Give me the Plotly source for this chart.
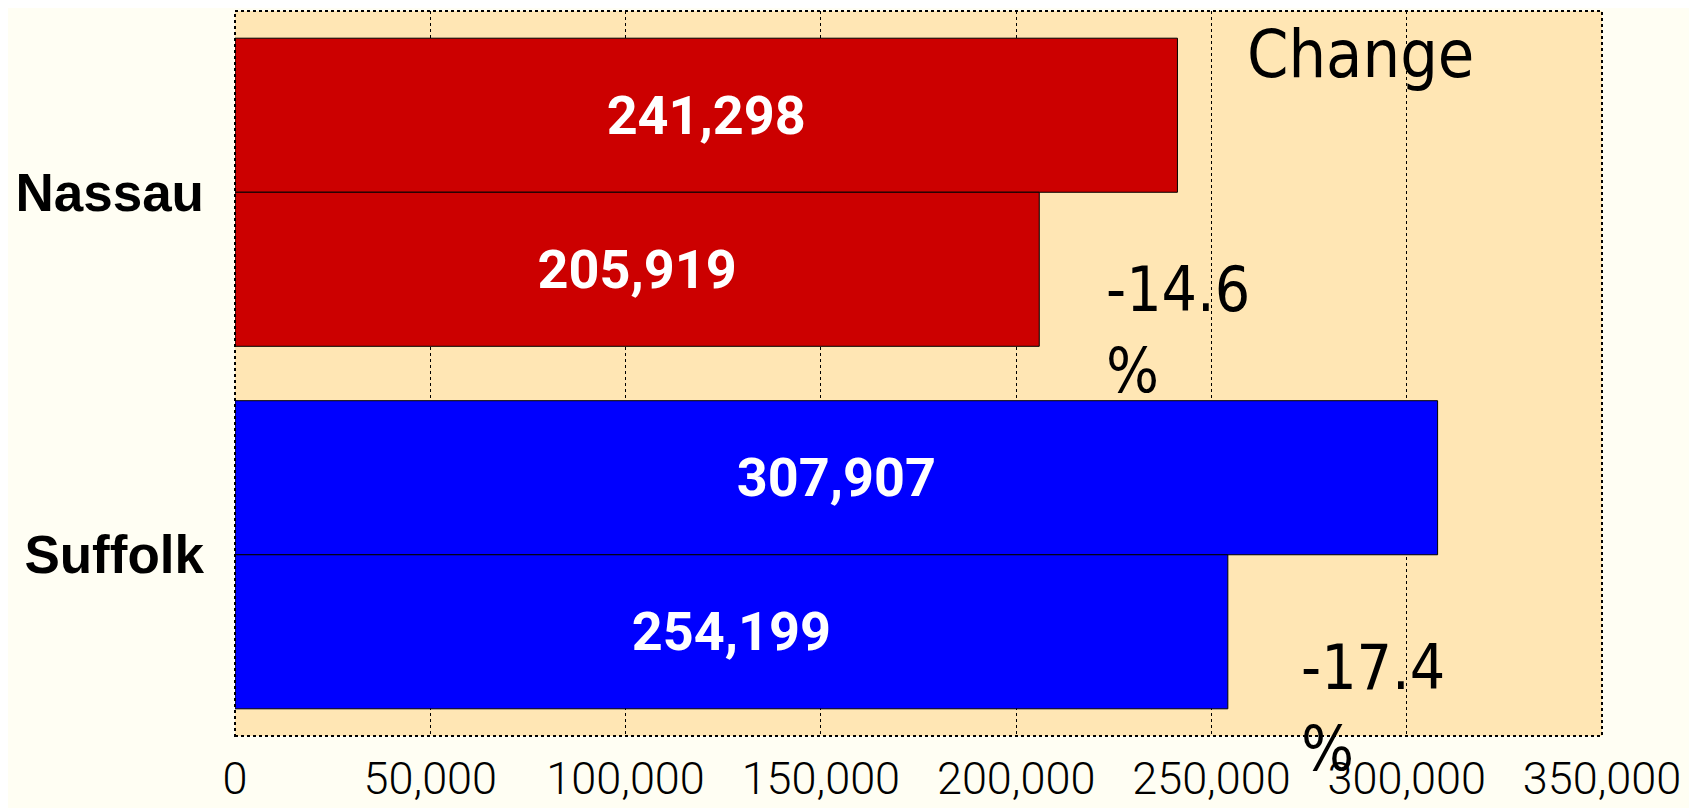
import plotly.graph_objects as go

# data
counties = ["Nassau", "Suffolk"]
before = [241298, 307907]
after = [205919, 254199]
change_labels = ["-14.6<br>%", "-17.4<br>%"]
county_colors = ["#CC0000", "#0000FF"]
x_ticks = [0, 50000, 100000, 150000, 200000, 250000, 300000, 350000]

thin = dict(family="DejaVu Sans Condensed, Roboto", color="black", weight=300)

fig = go.Figure()

for name, vals in [("Before", before), ("After", after)]:
    fig.add_trace(go.Bar(
        y=counties,
        x=vals,
        name=name,
        orientation="h",
        marker=dict(color=county_colors, line=dict(color="black", width=1)),
        text=[f"{v:,}" for v in vals],
        textposition="inside",
        insidetextanchor="middle",
        textangle=0,
        textfont=dict(family="Roboto, Arial", size=54, color="white", weight="bold"),
        hoverinfo="x+y",
    ))

# change annotations, placed beside the second bar of each county
for i, lab in enumerate(change_labels):
    fig.add_annotation(
        x=[0.636, 0.778][i], y=[0.56, 0.038][i],
        xref="paper", yref="paper",
        text=lab, showarrow=False,
        xanchor="left", yanchor="middle", align="left",
        font=dict(thin, size=62),
    )

fig.add_annotation(
    x=0.823, y=0.94, xref="paper", yref="paper",
    text="Change", showarrow=False,
    xanchor="center", yanchor="middle",
    font=dict(thin, size=66),
)

# dotted frame round the plot area
fig.add_shape(type="rect", xref="paper", yref="paper", x0=0, y0=0, x1=1, y1=1,
              line=dict(color="black", width=2, dash="dot"), layer="above")

fig.update_layout(
    width=1697, height=808,
    margin=dict(l=227, r=103, t=3, b=80),
    paper_bgcolor="#FFFEF3",
    plot_bgcolor="#FFE6B4",
    barmode="group",
    bargap=0.15,
    bargroupgap=0,
    showlegend=False,
    xaxis=dict(
        range=[0, 350000],
        tickvals=x_ticks,
        tickformat=",",
        showgrid=True,
        gridcolor="black",
        griddash="dot",
        gridwidth=1,
        zeroline=False,
        tickfont=dict(family="Roboto", color="black", weight=300, size=45),
        ticklabelstandoff=12,
    ),
    yaxis=dict(
        type="category",
        categoryarray=counties,
        range=[1.5, -0.5],
        showgrid=False,
        tickfont=dict(family="Liberation Sans, Arial", size=53, color="black", weight="bold"),
        ticklabelstandoff=30,
    ),
)

fig.write_html("out.html")
